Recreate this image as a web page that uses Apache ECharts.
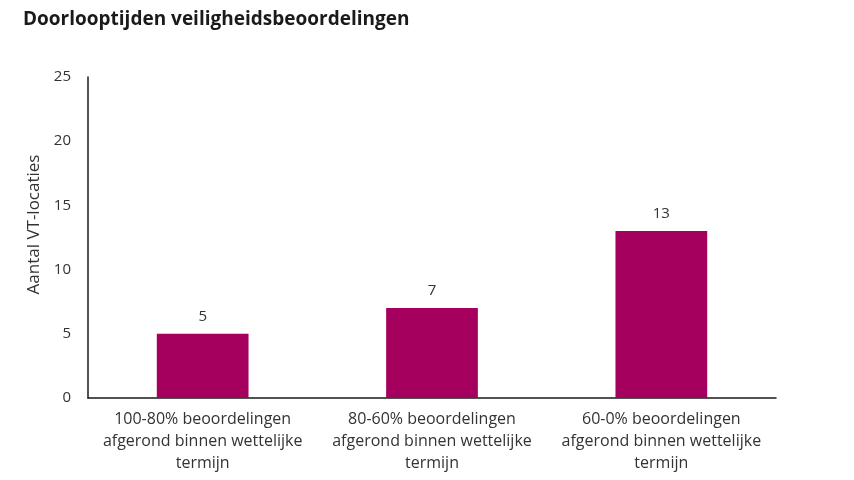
<!DOCTYPE html>
<html>
<head>
<meta charset="utf-8">
<script src="https://cdn.jsdelivr.net/npm/echarts@6/dist/echarts.min.js"></script>
<style>html,body{margin:0;padding:0;background:#fff}#c{width:854px;height:480px}</style>
</head>
<body>
<div id="c"></div>
<script>
const categories = [
  "100-80% beoordelingen\nafgerond binnen wettelijke\ntermijn",
  "80-60% beoordelingen\nafgerond binnen wettelijke\ntermijn",
  "60-0% beoordelingen\nafgerond binnen wettelijke\ntermijn"
];
const values = [5, 7, 13];
const yTicks = { min: 0, max: 25, interval: 5 };

const chart = echarts.init(document.getElementById('c'));
const font = '"Open Sans", "Noto Sans", sans-serif';
chart.setOption({
  animation: false,
  backgroundColor: '#fff',
  title: {
    text: 'Doorlooptijden veiligheidsbeoordelingen',
    left: 18, top: 5,
    textStyle: { fontFamily: font, fontSize: 19, fontWeight: 'bold', color: '#1a1a1a' }
  },
  grid: { left: 88, right: 78, top: 77, bottom: 82, containLabel: false },
  xAxis: {
    type: 'category',
    data: categories,
    axisLine: { lineStyle: { color: '#1a1a1a', width: 1.5 } },
    axisTick: { show: false },
    axisLabel: { fontFamily: font, fontSize: 16, color: '#333', lineHeight: 22, margin: 10, interval: 0 }
  },
  yAxis: {
    type: 'value',
    min: yTicks.min, max: yTicks.max, interval: yTicks.interval,
    name: 'Aantal VT-locaties',
    nameLocation: 'middle',
    nameGap: 39,
    nameTextStyle: { fontFamily: font, fontSize: 17, color: '#333', padding: [0, 0, 0, 26] },
    axisLine: { show: true, lineStyle: { color: '#1a1a1a', width: 1.5 } },
    axisTick: { show: false },
    splitLine: { show: false },
    axisLabel: { fontFamily: font, fontSize: 15, color: '#333', margin: 17 }
  },
  series: [{
    type: 'bar',
    data: values,
    barWidth: '40%',
    itemStyle: { color: '#A6005E' },
    label: { show: true, position: 'top', distance: 10, fontFamily: font, fontSize: 15, color: '#333' }
  }]
});
</script>
</body>
</html>
